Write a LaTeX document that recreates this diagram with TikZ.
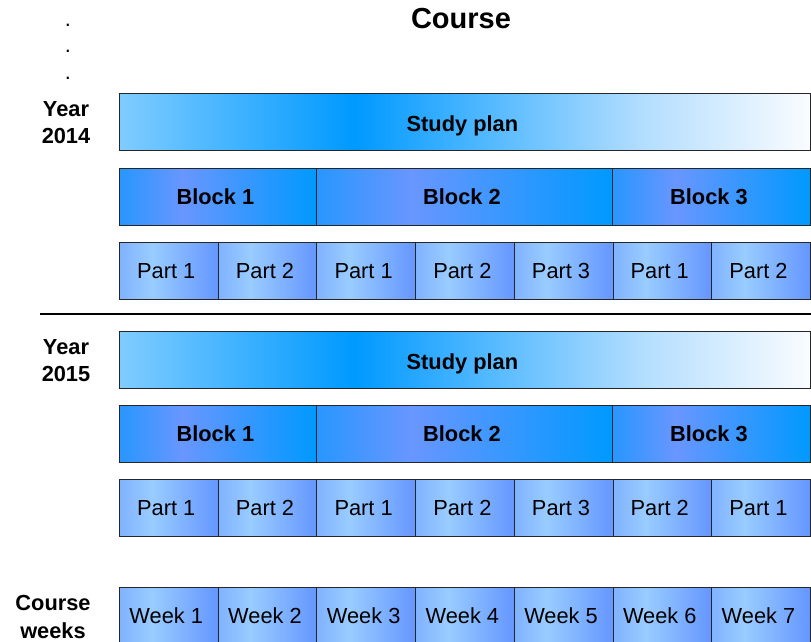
\documentclass[tikz,border=0pt]{standalone}
\usepackage{fontspec}
\setmainfont{Liberation Sans}
\usepackage{tikz}
\definecolor{partleft}{RGB}{128, 178, 255}
\definecolor{partlight}{RGB}{153, 204, 255}
\definecolor{partright}{RGB}{100, 150, 255}
\definecolor{blockleft}{RGB}{40, 150, 255}
\definecolor{blockmid}{RGB}{105, 150, 255}
\definecolor{blockright}{RGB}{0, 153, 255}
\definecolor{planleft}{RGB}{128, 204, 255}
\definecolor{planmid}{RGB}{0, 153, 255}
\definecolor{planlight}{RGB}{180, 222, 255}
\definecolor{planright}{RGB}{250, 252, 255}
\pgfdeclarehorizontalshading{partshade}{100bp}{color(0bp)=(partleft); color(25bp)=(partleft);
  color(41.5bp)=(partlight); color(75bp)=(partright); color(100bp)=(partright)}
\pgfdeclarehorizontalshading{blockshade}{100bp}{color(0bp)=(blockleft); color(25bp)=(blockleft);
  color(41bp)=(blockmid); color(75bp)=(blockright); color(100bp)=(blockright)}
\pgfdeclarehorizontalshading{planshade}{100bp}{color(0bp)=(planleft); color(25bp)=(planleft);
  color(42bp)=(planmid); color(63bp)=(planlight); color(75bp)=(planright); color(100bp)=(planright)}

\begin{document}
\begin{tikzpicture}[x=1pt, y=-1pt,
    box/.style={draw=black!85, line width=0.8pt, minimum height=57pt, inner sep=0pt,
      anchor=north west, font=\fontsize{21.8}{26}\selectfont, execute at end node={\kern5pt}},
    partbox/.style={box, shading=partshade, minimum width=98.7pt},
    blockbox/.style={box, shading=blockshade, font=\fontsize{21.8}{26}\selectfont\bfseries},
    planbox/.style={box, shading=planshade, minimum width=691pt, text height=19pt, text depth=0pt,
      font=\fontsize{21.8}{26}\selectfont\bfseries},
    sidelabel/.style={align=center, inner sep=0pt, font=\fontsize{21.8}{27.5}\selectfont\bfseries}]
    \clip (0, 0) rectangle (811, 641);
    \node[font=\fontsize{29}{34}\selectfont\bfseries, anchor=base, inner sep=0pt] (title) at (461, 28.3) {Course};
    \node[align=center, inner sep=0pt, font=\fontsize{21.8}{26.3}\selectfont] (dots) at (68, 51.7) {.\\.\\.};

    % year 2014
    \node[sidelabel] (year1) at (66, 122.6) {Year\\2014};
    \node[planbox] (plan1) at (119, 93) {Study plan};
    \node[blockbox, minimum width=197pt] (blk1-1) at (119, 168) {Block 1};
    \node[blockbox, minimum width=296pt] (blk1-2) at (316, 168) {Block 2};
    \node[blockbox, minimum width=198pt] (blk1-3) at (612, 168) {Block 3};
    \foreach \i/\t in {0/Part 1, 1/Part 2, 2/Part 1, 3/Part 2, 4/Part 3, 5/Part 1, 6/Part 2}
      \node[partbox] (part1-\i) at ({119+98.7*\i}, 242) {\t};

    \coordinate (sepL) at (40, 314);
    \coordinate (sepR) at (811, 314);
    \draw[line width=2pt] (sepL) -- (sepR);

    % year 2015
    \node[sidelabel] (year2) at (66, 360.6) {Year\\2015};
    \node[planbox] (plan2) at (119, 331) {Study plan};
    \node[blockbox, minimum width=197pt] (blk2-1) at (119, 405) {Block 1};
    \node[blockbox, minimum width=296pt] (blk2-2) at (316, 405) {Block 2};
    \node[blockbox, minimum width=198pt] (blk2-3) at (612, 405) {Block 3};
    \foreach \i/\t in {0/Part 1, 1/Part 2, 2/Part 1, 3/Part 2, 4/Part 3, 5/Part 2, 6/Part 1}
      \node[partbox] (part2-\i) at ({119+98.7*\i}, 479) {\t};

    % weeks
    \node[sidelabel] (weeks) at (53, 617) {Course\\weeks};
    \foreach \i in {1,...,7}
      \node[partbox] (week\i) at ({119+98.7*(\i-1)}, 587) {Week \i};
\end{tikzpicture}
\end{document}
